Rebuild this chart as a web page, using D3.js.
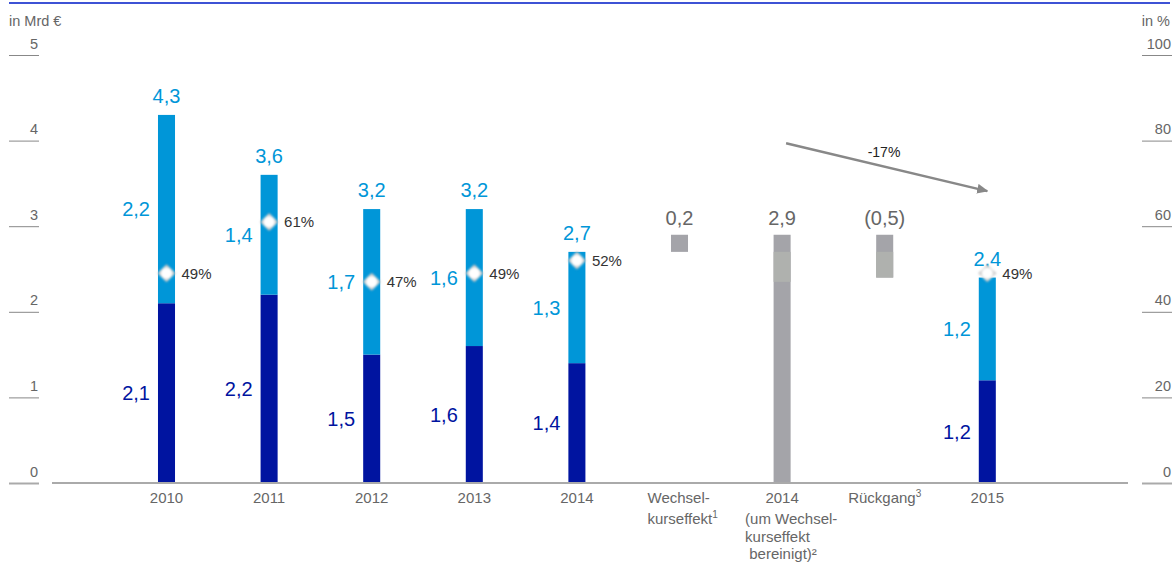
<!DOCTYPE html>
<html><head><meta charset="utf-8">
<script src="https://cdn.jsdelivr.net/npm/d3@7"></script>
<style>
html,body{margin:0;padding:0;background:#fff;}
svg{display:block;font-family:"Liberation Sans",Arial,sans-serif;}
</style></head>
<body>
<svg id="chart" width="1176" height="562"></svg>
<script>
// ---- data ----
const categories = ["2010","2011","2012","2013","2014","wk","adj","rg","2015"];
const categoryLabels = [["2010"],["2011"],["2012"],["2013"],["2014"],
  ["Wechsel-","kurseffekt|1"],["2014","(um Wechsel-","kurseffekt"," bereinigt)²"],["Rückgang|3"],["2015"]];
const darkValues  = [2.1, 2.2, 1.5, 1.6, 1.4, null, null, null, 1.2];
const lightValues = [2.2, 1.4, 1.7, 1.6, 1.3, null, null, null, 1.2];
const totalLabels = ["4,3","3,6","3,2","3,2","2,7",null,null,null,"2,4"];
const darkLabels  = ["2,1","2,2","1,5","1,6","1,4",null,null,null,"1,2"];
const lightLabels = ["2,2","1,4","1,7","1,6","1,3",null,null,null,"1,2"];
const pctValues   = [49, 61, 47, 49, 52, null, null, null, 49];
const bridgeCats   = ["wk","adj","rg"];
const bridgeFrom   = [2.7, 0, 2.9];
const bridgeTo     = [2.9, 2.9, 2.4];
const bridgeLabels = ["0,2","2,9","(0,5)"];
const bandCats = ["adj","rg"];
const bandFrom = [2.35, 2.4];
const bandTo   = [2.7, 2.7];
const leftTicks  = [0,1,2,3,4,5];
const rightTicks = [0,20,40,60,80,100];
const trendFrom = 3.97, trendTo = 3.41, trendLabel = "-17%";

// ---- layout ----
const svg = d3.select("#chart");
const baseY = 483, topY = 55;
const y  = d3.scaleLinear().domain([0,5]).range([baseY, topY]);
const yP = d3.scaleLinear().domain([0,100]).range([baseY, topY]);
const x  = d3.scaleBand().domain(categories).range([115.2, 1038.6]).paddingInner(0.834).paddingOuter(0.417);
const cx = c => x(c) + x.bandwidth()/2;

const C = {dark:"#0014a0", light:"#0096d8", grey:"#a4a4a9", greyLight:"#afb1ae", text:"#666", pct:"#333"};

// top rule
svg.append("line").attr("x1",9).attr("x2",1170).attr("y1",3).attr("y2",3)
  .attr("stroke","#3d52d5").attr("stroke-width",2);

// axes titles
svg.append("text").attr("x",9).attr("y",26).attr("font-size",14.5).attr("fill",C.text).text("in Mrd €");
svg.append("text").attr("x",1170).attr("y",26).attr("text-anchor","end").attr("font-size",14.5).attr("fill",C.text).text("in %");

// left axis
const gl = svg.append("g").attr("transform","translate(39,0)")
  .call(d3.axisLeft(y).tickValues(leftTicks).tickSize(30).tickFormat(d3.format("d")));
gl.select(".domain").remove();
gl.selectAll(".tick line").attr("stroke", d => d===0 ? "#aaa" : "#888").attr("stroke-width", d => d===0 ? 2 : 1);
gl.selectAll(".tick text").attr("x",-1).attr("dy",-7).attr("text-anchor","end")
  .attr("font-size",14.5).attr("fill",C.text).attr("font-family","Liberation Sans, Arial, sans-serif");

// right axis
const gr = svg.append("g").attr("transform","translate(1142,0)")
  .call(d3.axisRight(yP).tickValues(rightTicks).tickSize(30).tickFormat(d3.format("d")));
gr.select(".domain").remove();
gr.selectAll(".tick line").attr("stroke", d => d===0 ? "#aaa" : "#888").attr("stroke-width", d => d===0 ? 2 : 1);
gr.selectAll(".tick text").attr("x",29).attr("dy",-7).attr("text-anchor","end")
  .attr("font-size",14.5).attr("fill",C.text).attr("font-family","Liberation Sans, Arial, sans-serif");

// stacked bars
const idx = d3.range(categories.length).filter(i => darkValues[i] != null);
svg.selectAll("rect.dark").data(idx).join("rect").attr("class","dark")
  .attr("x", i => x(categories[i])).attr("width", x.bandwidth())
  .attr("y", i => y(darkValues[i])).attr("height", i => y(0)-y(darkValues[i]))
  .attr("fill", C.dark);
svg.selectAll("rect.light").data(idx).join("rect").attr("class","light")
  .attr("x", i => x(categories[i])).attr("width", x.bandwidth())
  .attr("y", i => y(darkValues[i]+lightValues[i])).attr("height", i => y(darkValues[i])-y(darkValues[i]+lightValues[i]))
  .attr("fill", C.light);

// bridge bars
svg.selectAll("rect.bridge").data(bridgeCats).join("rect").attr("class","bridge")
  .attr("x", c => x(c)).attr("width", x.bandwidth())
  .attr("y", (c,i) => y(Math.max(bridgeFrom[i],bridgeTo[i])))
  .attr("height", (c,i) => Math.abs(y(bridgeFrom[i])-y(bridgeTo[i])))
  .attr("fill", C.grey);
svg.selectAll("rect.band").data(bandCats).join("rect").attr("class","band")
  .attr("x", c => x(c)).attr("width", x.bandwidth())
  .attr("y", (c,i) => y(bandTo[i])).attr("height", (c,i) => y(bandFrom[i])-y(bandTo[i]))
  .attr("fill", C.greyLight);
svg.selectAll("text.bridgeLbl").data(bridgeCats).join("text").attr("class","bridgeLbl")
  .attr("x", c => cx(c)).attr("y", (c,i) => y(Math.max(bridgeFrom[i],bridgeTo[i])) - 10)
  .attr("text-anchor","middle").attr("font-size",20).attr("fill",C.text)
  .text((c,i) => bridgeLabels[i]);

// baseline
svg.append("line").attr("x1",52).attr("x2",1128).attr("y1",baseY).attr("y2",baseY)
  .attr("stroke","#aaa").attr("stroke-width",2);

// value labels
svg.selectAll("text.tot").data(idx).join("text").attr("class","tot")
  .attr("x", i => cx(categories[i])).attr("y", i => y(darkValues[i]+lightValues[i]) - 12)
  .attr("text-anchor","middle").attr("font-size",20).attr("fill",C.light).text(i => totalLabels[i]);
svg.selectAll("text.lightLbl").data(idx).join("text").attr("class","lightLbl")
  .attr("x", i => x(categories[i]) - 8).attr("y", i => (y(darkValues[i]) + y(darkValues[i]+lightValues[i]))/2)
  .attr("dy","0.36em").attr("text-anchor","end").attr("font-size",20).attr("fill",C.light).text(i => lightLabels[i]);
svg.selectAll("text.darkLbl").data(idx).join("text").attr("class","darkLbl")
  .attr("x", i => x(categories[i]) - 8).attr("y", i => (y(0) + y(darkValues[i]))/2)
  .attr("dy","0.36em").attr("text-anchor","end").attr("font-size",20).attr("fill",C.dark).text(i => darkLabels[i]);

// percent markers
const defs = svg.append("defs");
const rg = defs.append("radialGradient").attr("id","glow");
rg.append("stop").attr("offset","0%").attr("stop-color","#fff");
rg.append("stop").attr("offset","45%").attr("stop-color","#fff");
rg.append("stop").attr("offset","100%").attr("stop-color","#aaa");
defs.append("filter").attr("id","blur").attr("x","-50%").attr("y","-50%").attr("width","200%").attr("height","200%")
  .append("feGaussianBlur").attr("stdDeviation",1.3);
const pIdx = idx.filter(i => pctValues[i] != null);
const mk = svg.selectAll("g.mk").data(pIdx).join("g").attr("class","mk")
  .attr("transform", i => `translate(${cx(categories[i])},${yP(pctValues[i])})`);
mk.append("path").attr("d","M0,-9 L9,0 L0,9 L-9,0 Z")
  .attr("fill","url(#glow)").attr("filter","url(#blur)");
mk.append("circle").attr("r",3.5).attr("fill","#fff").attr("filter","url(#blur)");
svg.selectAll("text.pct").data(pIdx).join("text").attr("class","pct")
  .attr("x", i => cx(categories[i]) + 15).attr("y", i => yP(pctValues[i]))
  .attr("dy","0.36em").attr("font-size",15).attr("fill",C.pct).text(i => pctValues[i] + "%");

// category labels
const lineOff = [0, 21, 39, 56];
categories.forEach((c,i) => {
  const lines = categoryLabels[i];
  const multi = lines.length > 1;
  lines.forEach((ln,k) => {
    const parts = ln.split("|");
    let ax, anchor;
    if (!multi || (c === "adj" && k === 0)) { ax = cx(c); anchor = "middle"; }
    else { ax = c === "adj" ? cx(c) - 37 : cx(c) - 32; anchor = "start"; }
    const t = svg.append("text").attr("x", ax).attr("y", 503 + lineOff[k])
      .attr("text-anchor", anchor).attr("font-size",15).attr("fill",C.text)
      .attr("xml:space","preserve");
    t.append("tspan").text(parts[0]);
    if (parts[1]) t.append("tspan").attr("font-size",10).attr("dy",-6).text(parts[1]);
  });
});

// trend arrow
defs.append("marker").attr("id","arr").attr("viewBox","0 0 10 10").attr("refX",9).attr("refY",5)
  .attr("markerWidth",4.5).attr("markerHeight",4).attr("orient","auto").attr("preserveAspectRatio","none")
  .append("path").attr("d","M0,0 L10,5 L0,10 Z").attr("fill","#888");
const ax1 = cx("adj") + 4, ax2 = cx("2015");
svg.append("line").attr("x1",ax1).attr("y1",y(trendFrom)).attr("x2",ax2).attr("y2",y(trendTo))
  .attr("stroke","#888").attr("stroke-width",2.5).attr("marker-end","url(#arr)");
svg.append("text").attr("x",884).attr("y",156.5).attr("text-anchor","middle")
  .attr("font-size",14).attr("fill","#222").text(trendLabel);
</script>
</body></html>
